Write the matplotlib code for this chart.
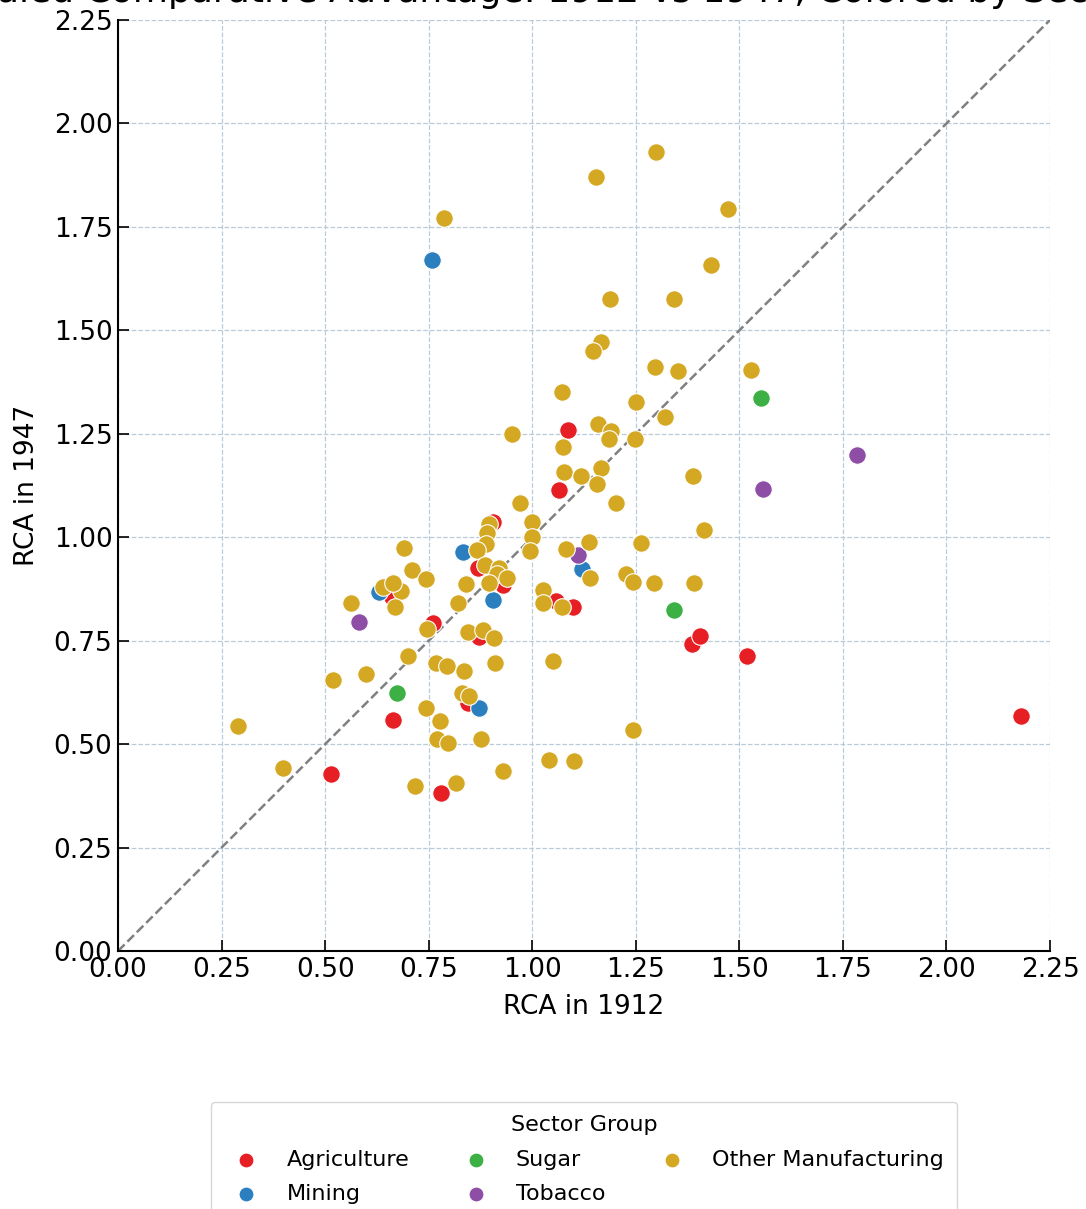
import matplotlib
matplotlib.use('Agg')
import matplotlib.pyplot as plt

# RCA values (1912 on x, 1947 on y)
agri_1912 = [1.086, 1.065, 0.905, 0.869, 0.929, 0.661, 0.760, 0.871, 0.845, 1.057,
             1.098, 1.386, 1.405, 1.518, 2.180, 0.664, 0.514, 0.780]
agri_1947 = [1.259, 1.114, 1.037, 0.926, 0.885, 0.856, 0.793, 0.759, 0.599, 0.846,
             0.831, 0.742, 0.761, 0.713, 0.568, 0.558, 0.428, 0.382]

mining_1912 = [0.758, 0.833, 0.630, 0.905, 1.120, 0.871]
mining_1947 = [1.670, 0.964, 0.868, 0.848, 0.923, 0.587]

sugar_1912 = [1.552, 1.342, 0.673]
sugar_1947 = [1.337, 0.824, 0.624]

tobacco_1912 = [1.784, 1.557, 1.110, 0.582]
tobacco_1947 = [1.199, 1.117, 0.957, 0.795]

other_1912 = [1.299, 1.154, 0.787, 1.473, 1.431, 1.188, 1.342, 1.166, 1.147, 1.296,
              1.352, 1.528, 1.072, 1.250, 1.320, 0.951, 1.159, 1.190, 1.185, 1.248,
              1.074, 1.166, 1.077, 1.118, 1.156, 1.388, 0.970, 1.202, 0.999, 0.999,
              0.995, 0.896, 0.891, 0.888, 0.867, 1.081, 1.137, 1.415, 1.263, 0.690,
              0.710, 0.744, 0.683, 0.640, 0.664, 0.669, 0.562, 0.886, 0.920, 0.915,
              0.939, 0.896, 0.840, 0.821, 1.026, 1.026, 1.072, 1.139, 1.226, 1.243,
              1.294, 1.390, 0.746, 0.845, 0.881, 0.908, 0.700, 0.599, 0.519, 0.768,
              0.794, 0.835, 0.910, 1.050, 0.830, 0.847, 0.744, 0.777, 0.770, 0.797,
              0.876, 1.243, 0.290, 0.398, 0.717, 0.816, 0.929, 1.040, 1.101]
other_1947 = [1.931, 1.871, 1.772, 1.793, 1.658, 1.576, 1.576, 1.472, 1.450, 1.411,
              1.402, 1.404, 1.351, 1.327, 1.291, 1.250, 1.274, 1.257, 1.237, 1.237,
              1.218, 1.167, 1.158, 1.148, 1.129, 1.148, 1.083, 1.083, 1.037, 1.001,
              0.967, 1.032, 1.010, 0.984, 0.969, 0.972, 0.989, 1.018, 0.986, 0.974,
              0.921, 0.899, 0.870, 0.880, 0.889, 0.831, 0.841, 0.933, 0.926, 0.911,
              0.902, 0.889, 0.887, 0.841, 0.873, 0.841, 0.831, 0.902, 0.911, 0.892,
              0.889, 0.889, 0.778, 0.771, 0.776, 0.757, 0.713, 0.669, 0.655, 0.696,
              0.689, 0.677, 0.696, 0.701, 0.624, 0.616, 0.587, 0.556, 0.512, 0.503,
              0.512, 0.534, 0.544, 0.442, 0.399, 0.406, 0.435, 0.462, 0.459]

groups = [
    ('Agriculture', agri_1912, agri_1947, '#e61f25'),
    ('Mining', mining_1912, mining_1947, '#2c7fbf'),
    ('Sugar', sugar_1912, sugar_1947, '#3cb044'),
    ('Tobacco', tobacco_1912, tobacco_1947, '#8e4ea6'),
    ('Other Manufacturing', other_1912, other_1947, '#d4a822'),
]

fig = plt.figure(figsize=(10.86, 12.09), dpi=100)
ax = fig.add_axes([0.1087, 0.2134, 0.8582, 0.7701])

handles = []
for i, (name, xs, ys, col) in enumerate(groups):
    h = ax.scatter(xs, ys, s=160, color=col, edgecolor='white', linewidth=0.8,
                   label=name, zorder=3 + i)
    handles.append(h)

# 45-degree reference line
ax.plot([0, 2.25], [0, 2.25], color='gray', linestyle='--', linewidth=1.8, zorder=2)

ax.set_xlim(0, 2.25)
ax.set_ylim(0, 2.25)
ticks = [0, 0.25, 0.5, 0.75, 1.0, 1.25, 1.5, 1.75, 2.0, 2.25]
ax.set_xticks(ticks)
ax.set_yticks(ticks)
ax.set_xticklabels([f'{t:.2f}' for t in ticks])
ax.set_yticklabels([f'{t:.2f}' for t in ticks])
ax.tick_params(direction='in', length=8, width=1.2, labelsize=19, pad=4)
ax.grid(True, linestyle='--', linewidth=0.9, color='#b9cbd9')
ax.set_axisbelow(True)
for side in ['top', 'right']:
    ax.spines[side].set_visible(False)
for side in ['left', 'bottom']:
    ax.spines[side].set_linewidth(1.5)

ax.set_xlabel('RCA in 1912', fontsize=19, labelpad=8)
ax.set_ylabel('RCA in 1947', fontsize=19, labelpad=10)

# title sits mostly above the top edge, as in the cropped original
fig.text(0.538, 0.9985, 'Revealed Comparative Advantage: 1912 vs 1947, Colored by Sector Group',
         ha='center', va='baseline', fontsize=26)

leg = ax.legend(handles=handles, title='Sector Group', loc='upper center',
                bbox_to_anchor=(0.5, -0.150), ncol=3, fontsize=16, title_fontsize=16,
                frameon=True, fancybox=True, handletextpad=0.8, columnspacing=2.0,
                labelspacing=0.65, borderpad=0.6, markerscale=0.85)
leg.get_frame().set_edgecolor('#cccccc')

fig.savefig('out.png', dpi=100)
